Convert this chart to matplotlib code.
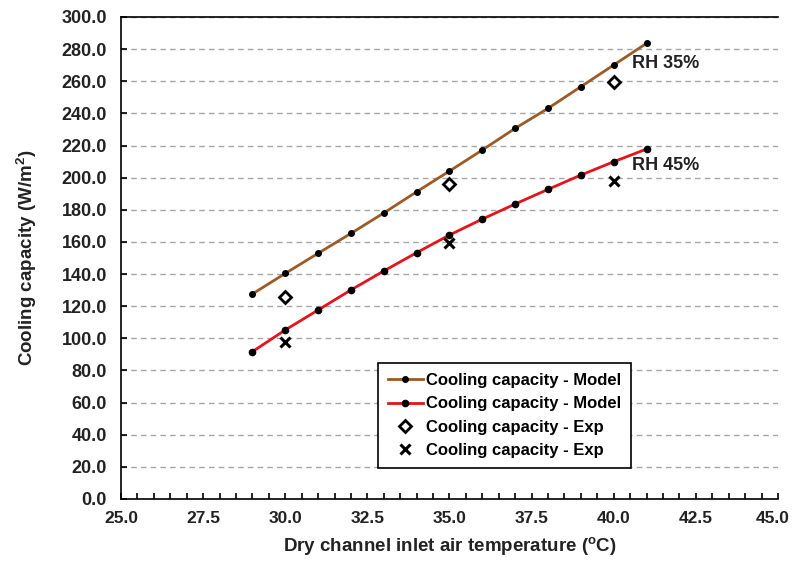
import matplotlib
matplotlib.use("Agg")
import matplotlib.pyplot as plt
import matplotlib.transforms as mtransforms
from matplotlib.ticker import MultipleLocator

plt.rcParams['font.family'] = ['Liberation Sans', 'DejaVu Sans']
plt.rcParams['font.weight'] = 'bold'

# model curves
temp_model = [29, 30, 31, 32, 33, 34, 35, 36, 37, 38, 39, 40, 41]
cap_rh35 = [127.6, 140.4, 152.9, 165.3, 178.0, 191.2, 204.1, 217.2, 230.7, 243.1, 256.6, 270.1, 283.6]
cap_rh45 = [91.7, 105.2, 117.6, 130.1, 141.9, 153.3, 164.3, 174.2, 183.6, 192.7, 201.6, 209.9, 217.8]

# experiments
temp_exp = [30, 35, 40]
exp_rh35 = [125.9, 196.0, 259.7]
exp_rh45 = [97.9, 159.5, 198.1]

x_ticks = [25.0, 27.5, 30.0, 32.5, 35.0, 37.5, 40.0, 42.5, 45.0]
y_ticks = list(range(0, 301, 20))

fig = plt.figure(figsize=(7.93, 5.62), dpi=100)
ax = fig.add_axes([0.1526, 0.1121, 0.8284, 0.8577])

ax.plot(temp_model, cap_rh35, '-', color='#9c5a26', lw=2, marker='o', ms=4,
        mfc='black', mec='black', label='Cooling capacity - Model')
ax.plot(temp_model, cap_rh45, '-', color='#e3141b', lw=2, marker='o', ms=4.5,
        mfc='black', mec='black', label='Cooling capacity - Model')
ax.plot(temp_exp, exp_rh35, linestyle='none', marker='D', ms=6, mfc='white',
        mec='black', mew=2, label='Cooling capacity - Exp')
ax.plot(temp_exp, exp_rh45, linestyle='none', marker='x', ms=7, color='black',
        mew=2.2, label='Cooling capacity - Exp')

ax.text(40.55, 271, 'RH 35%', fontsize=13, fontweight='bold', va='center', color='#222222')
ax.text(40.55, 207.5, 'RH 45%', fontsize=13, fontweight='bold', va='center', color='#222222')

ax.set_xlim(25, 45)
ax.set_ylim(0, 300)
ax.set_xticks(x_ticks)
ax.set_xticklabels(['%.1f' % v for v in x_ticks])
ax.xaxis.set_minor_locator(MultipleLocator(0.5))
ax.set_yticks(y_ticks)
ax.set_yticklabels(['%.1f' % v for v in y_ticks])
ax.tick_params(which='both', direction='in', length=4, width=1.2, color='black',
               labelcolor='#222222')
ax.tick_params(axis='x', pad=9, labelsize=12.5)
ax.tick_params(axis='y', pad=10, labelsize=13)
for lab in ax.get_xticklabels() + ax.get_yticklabels():
    lab.set_fontweight('bold')
# keep the last x label inside the picture
last = ax.get_xticklabels()[-1]
last.set_transform(last.get_transform() +
                   mtransforms.ScaledTranslation(-4 / 72, 0, fig.dpi_scale_trans))

ax.grid(axis='y', linestyle=(0, (4, 3)), color='#a6a6a6', lw=1)
ax.set_axisbelow(True)
ax.spines['right'].set_visible(False)
for s in ['top', 'left', 'bottom']:
    ax.spines[s].set_color('black')
    ax.spines[s].set_linewidth(1.2)

ax.set_xlabel('Dry channel inlet air temperature ($\\mathregular{^o}$C)', fontsize=13.5,
              fontweight='bold', color='#222222', labelpad=6)
ax.set_ylabel('Cooling capacity (W/m$\\mathregular{^2}$)', fontsize=13.5,
              fontweight='bold', color='#222222', labelpad=16)

leg = ax.legend(loc='upper left', bbox_to_anchor=(0.391, 0.282), fontsize=12,
                frameon=True, fancybox=False, edgecolor='black', framealpha=1,
                handlelength=2.1, handletextpad=0.2, borderpad=0.6,
                labelspacing=0.5, borderaxespad=0)
leg.get_frame().set_linewidth(1.2)

fig.savefig('out.png', dpi=100)
